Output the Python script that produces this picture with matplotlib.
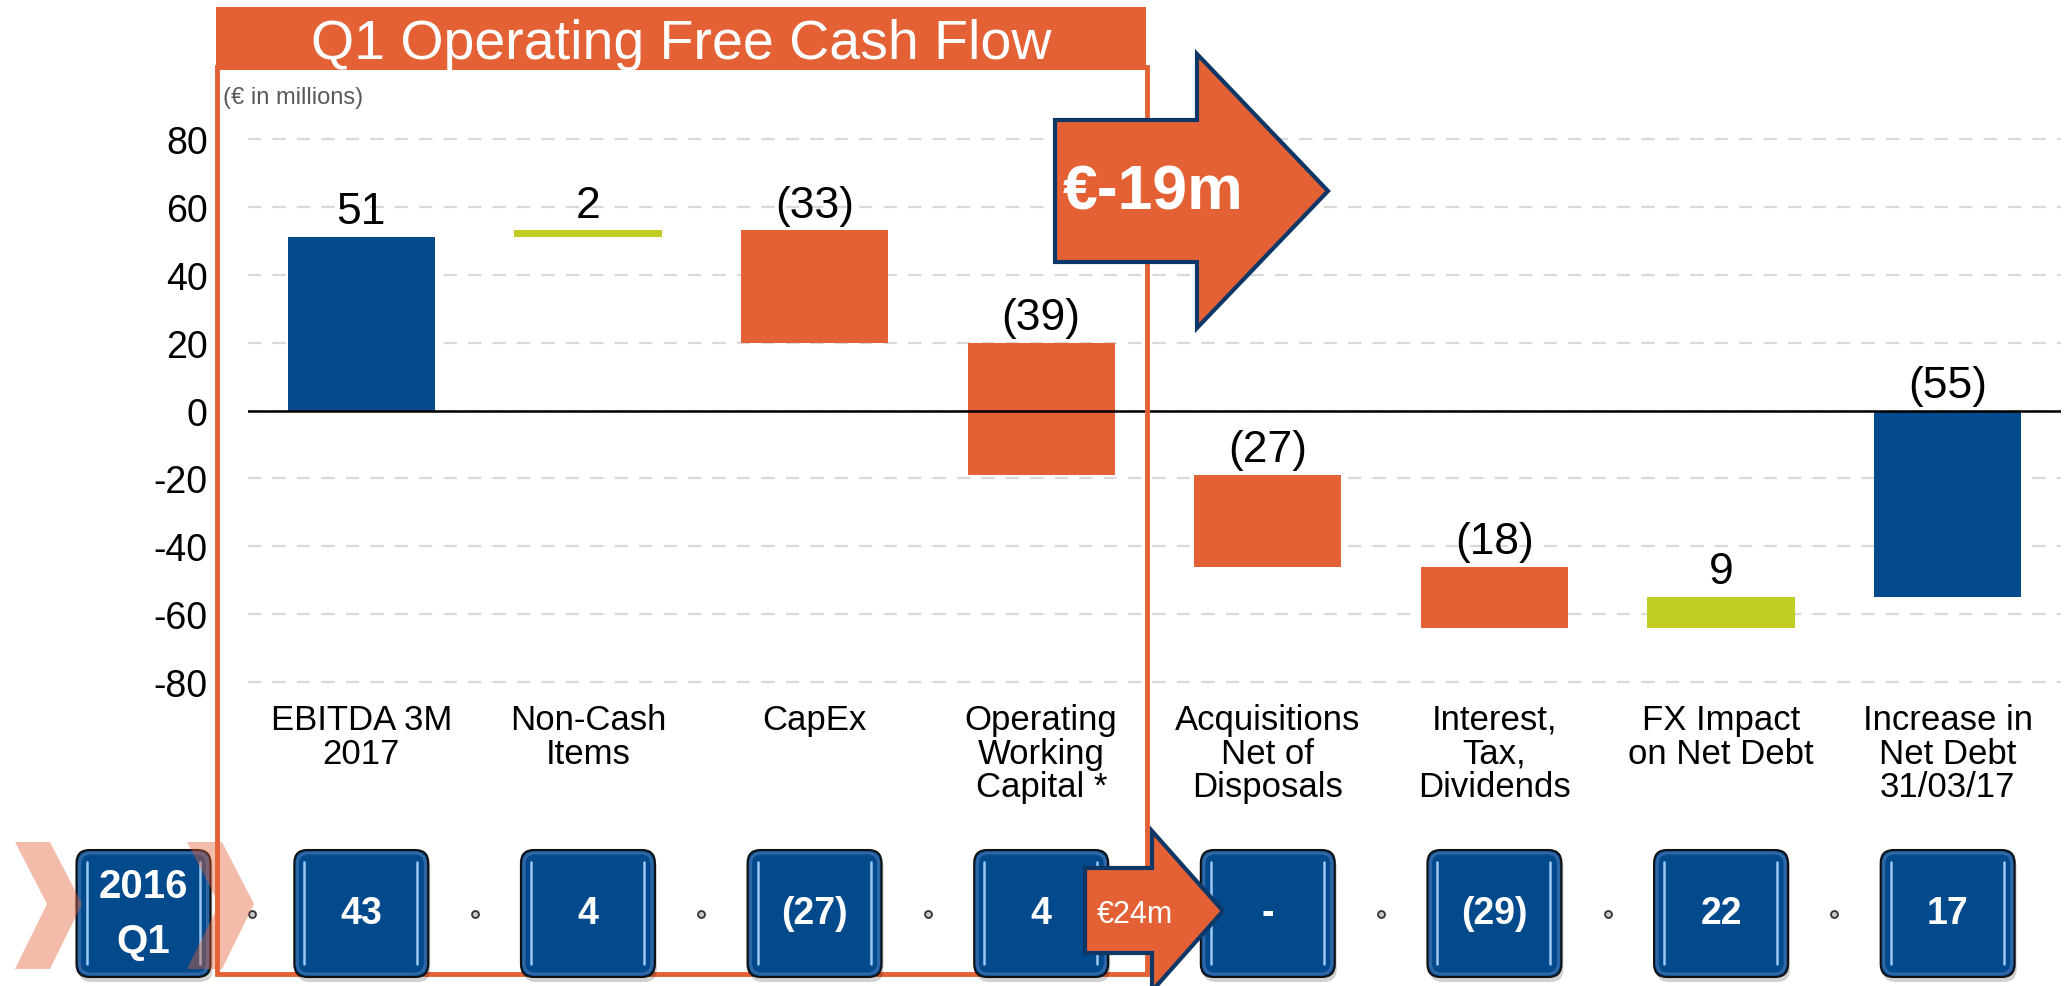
import matplotlib
matplotlib.use("Agg")
import matplotlib.pyplot as plt
from matplotlib.patches import FancyBboxPatch, Polygon, Rectangle

plt.rcParams['font.family'] = ['Liberation Sans', 'DejaVu Sans']

# data
categories = ["EBITDA 3M\n2017", "Non-Cash\nItems", "CapEx", "Operating\nWorking\nCapital *",
              "Acquisitions\nNet of\nDisposals", "Interest,\nTax,\nDividends",
              "FX Impact\non Net Debt", "Increase in\nNet Debt\n31/03/17"]
values = [51, 2, -33, -39, -27, -18, 9, -55]
is_total = [True, False, False, False, False, False, False, True]
prior_label = "2016\nQ1"
prior_values = [43, 4, -27, 4, None, -29, 22, 17]
yticks = [-80, -60, -40, -20, 0, 20, 40, 60, 80]
title = "Q1 Operating Free Cash Flow"
unit_note = "(€ in millions)"
ofcf_text = "€-19m"
prior_ofcf_text = "€24m"

ORANGE = "#E46136"
BLUE = "#024A8C"
GREEN = "#C2CD23"
NAVY = "#0D3766"
W, H = 2067, 987


def fmt(v):
    if v is None:
        return "-"
    return f"({abs(v)})" if v < 0 else str(v)


fig = plt.figure(figsize=(W / 100, H / 100), dpi=100)
ax_l, ax_r, ax_t, ax_b = 248, 2061, 133, 690
ax = fig.add_axes([ax_l / W, 1 - ax_b / H, (ax_r - ax_l) / W, (ax_b - ax_t) / H])

# waterfall bars
bottoms, heights, colors = [], [], []
running = 0
for v, tot in zip(values, is_total):
    if tot:
        bottoms.append(0)
        colors.append(BLUE)
        running = v
    else:
        bottoms.append(running)
        colors.append(GREEN if v > 0 else ORANGE)
        running += v
    heights.append(v)

x = list(range(len(values)))
ax.bar(x, heights, bottom=bottoms, width=0.65, color=colors, zorder=3)
for i, (b, h, v) in enumerate(zip(bottoms, heights, values)):
    top = max(b, b + h)
    ax.annotate(fmt(v), (i, top), xytext=(0, 10), textcoords='offset points',
                ha='center', va='baseline', fontsize=32, color='black', zorder=5)

ax.axhline(0, color='black', lw=1.8, zorder=4)
ax.set_xlim(-0.5, 7.5)
ax.set_ylim(-82, 82)
ax.set_yticks(yticks)
ax.set_yticklabels([str(t) for t in yticks])
ax.yaxis.grid(True, color='#D9D9D9', lw=1.6, ls=(0, (6, 5)))
ax.set_axisbelow(True)
ax.set_xticks(x)
ax.set_xticklabels(categories, fontsize=25, linespacing=1.03)
ax.tick_params(axis='x', length=0, pad=10)
ax.tick_params(axis='y', length=0, pad=29, labelsize=27)
for s in ax.spines.values():
    s.set_visible(False)

# overlay in pixel coordinates for the slide decorations
ov = fig.add_axes([0, 0, 1, 1])
ov.set_xlim(0, W)
ov.set_ylim(H, 0)
ov.axis('off')
ov.set_facecolor('none')

ov.add_patch(Rectangle((216, 8), 930, 63, fc=ORANGE, ec='none', zorder=2))
ov.text(681, 59, title, color='white', fontsize=40, ha='center', va='baseline', zorder=3)
ov.plot([217, 217, 1147, 1147], [68, 975, 975, 68], color=ORANGE, lw=3.5,
        solid_joinstyle='miter', zorder=1)
ov.text(223, 104, unit_note, color='#595959', fontsize=17, ha='left', va='baseline', zorder=3)

inv = ov.transData.inverted()


def box_center(i):
    return inv.transform(ax.transData.transform((i, 0)))[0]


def draw_box(cx, text, fs, ls=1.2):
    bw, bh, y0 = 134, 127, 851
    x0 = cx - bw / 2
    style = "round,pad=0,rounding_size=13"
    ov.add_patch(FancyBboxPatch((x0 + 2, y0 + 5), bw, bh, boxstyle=style,
                                fc='black', ec='none', alpha=0.18, zorder=2))
    ov.add_patch(FancyBboxPatch((x0, y0), bw, bh, boxstyle=style,
                                fc=BLUE, ec='#111111', lw=1.5, zorder=3))
    ov.add_patch(FancyBboxPatch((x0 + 3, y0 + 3), bw - 6, bh - 6, boxstyle="round,pad=0,rounding_size=11",
                                fc='none', ec='#2E66A6', lw=2.2, zorder=3))
    for lx in (x0 + 10, x0 + bw - 11):
        ov.plot([lx, lx], [y0 + 12, y0 + bh - 13], color='#9CC8F2', lw=1.8,
                solid_capstyle='round', zorder=3)
    ov.text(cx, y0 + bh / 2, text, color='white', fontsize=fs, fontweight='bold',
            ha='center', va='center', linespacing=ls, zorder=4)


prior_cx = 143.5
draw_box(prior_cx, prior_label, 29, ls=1.55)
centers = [box_center(i) for i in x]
for cx, pv in zip(centers, prior_values):
    draw_box(cx, fmt(pv), 27)

dot_x = [(prior_cx + centers[0]) / 2]
dot_x += [(centers[i] + centers[i + 1]) / 2 for i in range(len(centers) - 1) if i != 3]
ov.plot(dot_x, [915] * len(dot_x), 'o', ms=5, mfc='#C8C8C8', mec='#333333', mew=1.3,
        ls='none', zorder=4)

# small arrow (prior year OFCF)
ov.add_patch(Polygon([(1085, 869), (1152, 869), (1152, 832), (1223, 912), (1152, 992),
                      (1152, 954), (1085, 954)], closed=True, fc=ORANGE, ec=NAVY, lw=3,
                     joinstyle='miter', zorder=5))
ov.text(1135, 915, prior_ofcf_text, color='white', fontsize=22, ha='center', va='center', zorder=6)

# chevrons
for dx in (0, 172):
    ov.add_patch(Polygon([(15 + dx, 843), (50 + dx, 843), (82 + dx, 905), (50 + dx, 970),
                          (15 + dx, 970), (47 + dx, 905)], closed=True, fc=ORANGE,
                         ec='none', alpha=0.42, zorder=7))

# big arrow (Q1 OFCF)
ov.add_patch(Polygon([(1055, 121), (1197, 121), (1197, 55), (1328, 192), (1197, 329),
                      (1197, 263), (1055, 263)], closed=True, fc=ORANGE, ec=NAVY, lw=3,
                     joinstyle='miter', zorder=8))
ov.text(1063, 210, ofcf_text, color='white', fontsize=45, fontweight='bold',
        ha='left', va='baseline', zorder=9)

fig.savefig("out.png", dpi=100)
